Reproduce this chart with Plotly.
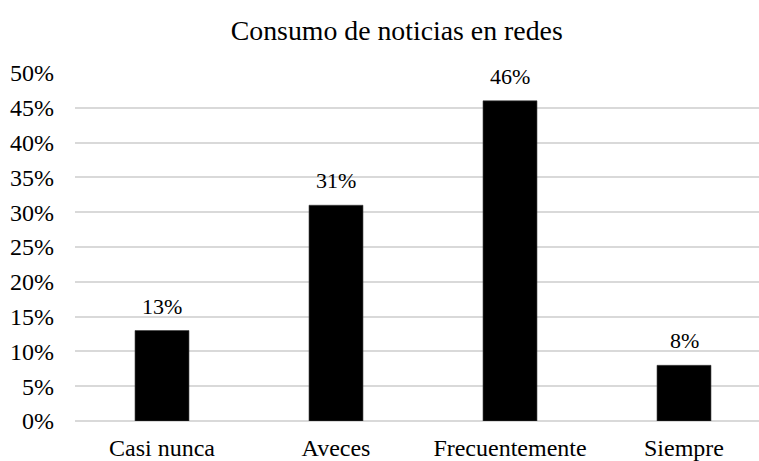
import plotly.graph_objects as go

categories = ["Casi nunca", "Aveces", "Frecuentemente", "Siempre"]
values = [0.13, 0.31, 0.46, 0.08]
y_ticks = [0, 0.05, 0.10, 0.15, 0.20, 0.25, 0.30, 0.35, 0.40, 0.45, 0.50]
y_tick_labels = ["0%", "5%", "10%", "15%", "20%", "25%", "30%", "35%", "40%", "45%", "50%"]
title_text = "Consumo de noticias en redes"

FONT = "Liberation Serif"
tickfont = dict(family=FONT, size=24, color="#000000")

fig = go.Figure()
fig.add_trace(go.Bar(
    x=list(range(len(categories))),
    y=values,
    width=0.31,
    marker=dict(color="#000000", line=dict(color="#3a3a3a", width=0.6)),
    hoverinfo="skip",
))

for i, v in enumerate(values):
    fig.add_annotation(
        x=i, y=v, text=f"{round(v*100)}%", showarrow=False,
        xref="x", yref="y", yanchor="bottom", xanchor="center", yshift=10,
        font=dict(family=FONT, size=22, color="#000000"),
    )

fig.update_layout(
    width=759, height=461,
    margin=dict(l=75, r=0, t=73, b=40, pad=0),
    paper_bgcolor="white", plot_bgcolor="white",
    showlegend=False,
    title=dict(text=title_text, x=0.5227, xanchor="center", y=0.935, yanchor="middle",
               font=dict(family=FONT, size=27.8, color="#000000")),
    font=dict(family=FONT, size=24, color="#000000"),
    xaxis=dict(
        range=[-0.5, -0.5 + 684 / 174], tickmode="array",
        tickvals=list(range(len(categories))), ticktext=categories,
        tickfont=tickfont,
        showgrid=False, zeroline=False, showline=False, ticks="",
        ticklabelstandoff=10, fixedrange=True,
    ),
    yaxis=dict(
        range=[0, 0.5], tickmode="array", tickvals=y_ticks, ticktext=y_tick_labels,
        tickfont=tickfont,
        showgrid=True, gridcolor="#d9d9d9", gridwidth=1.5,
        zeroline=True, zerolinecolor="#d9d9d9", zerolinewidth=1.5,
        showline=False, ticks="", ticklabelstandoff=20, fixedrange=True,
    ),
)

fig.write_html(
    "out.html",
    config={"displayModeBar": False},
    post_script="document.body.style.margin='0';document.body.style.overflow='hidden';",
)
